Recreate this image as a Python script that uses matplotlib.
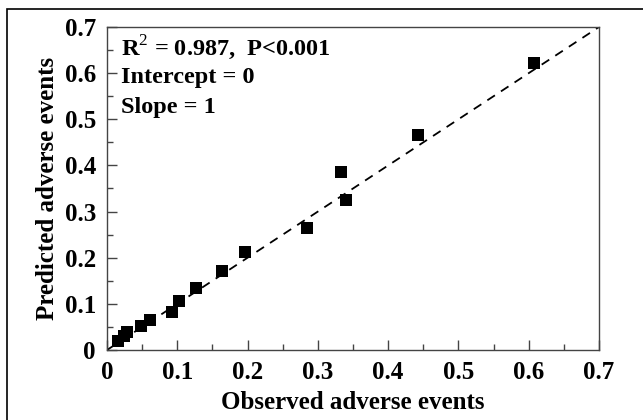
import matplotlib
matplotlib.use("Agg")
import matplotlib.pyplot as plt
from matplotlib.patches import Rectangle
from matplotlib.ticker import MultipleLocator

observed = [0.015, 0.024, 0.028, 0.049, 0.061, 0.093, 0.103, 0.127, 0.164, 0.196,
            0.284, 0.333, 0.340, 0.443, 0.607]
predicted = [0.020, 0.030, 0.038, 0.052, 0.065, 0.082, 0.107, 0.135, 0.172, 0.213,
             0.265, 0.385, 0.325, 0.467, 0.622]
ticks = [0, 0.1, 0.2, 0.3, 0.4, 0.5, 0.6, 0.7]
tick_labels = ["0", "0.1", "0.2", "0.3", "0.4", "0.5", "0.6", "0.7"]
annotations = ["R$^2$ = 0.987,  P<0.001", "Intercept = 0", "Slope = 1"]

plt.rcParams['font.family'] = ['Liberation Serif', 'DejaVu Serif']
plt.rcParams['mathtext.fontset'] = 'custom'
plt.rcParams['mathtext.rm'] = 'Liberation Serif'
plt.rcParams['mathtext.bf'] = 'Liberation Serif:bold'

fig = plt.figure(figsize=(6.43, 4.2), dpi=100)
fig.patches.append(Rectangle((7/643, -0.5), 2, 1 - 9/420 + 0.5, transform=fig.transFigure,
                             fill=False, edgecolor='black', linewidth=1.2, figure=fig))
ax = fig.add_axes([107/643, 1 - 350/420, (599-107)/643, (350-27)/420])

ax.plot([0, 0.7], [0, 0.7], linestyle=(0, (5, 4)), color='black', linewidth=1.3, zorder=2)
ax.scatter(observed, predicted, marker='s', s=85, color='black', zorder=3, linewidths=0)

ax.set_xlim(0, 0.7)
ax.set_ylim(0, 0.7)
ax.set_xticks(ticks)
ax.set_xticklabels(tick_labels)
ax.set_yticks(ticks)
ax.set_yticklabels(tick_labels)
ax.xaxis.set_minor_locator(MultipleLocator(0.05))
ax.yaxis.set_minor_locator(MultipleLocator(0.05))
ax.tick_params(which='both', direction='in', top=False, right=False, color='#444444', width=1)
ax.tick_params(which='major', length=7, labelsize=18)
ax.tick_params(axis='x', which='major', pad=8)
ax.tick_params(axis='y', which='major', pad=8)
ax.tick_params(which='minor', length=4)
for lab in ax.get_xticklabels() + ax.get_yticklabels():
    lab.set_fontweight('bold')
for s in ax.spines.values():
    s.set_color('#444444')
    s.set_linewidth(1)

ax.set_xlabel("Observed adverse events", fontsize=18, fontweight='bold', labelpad=5)
ax.set_ylabel("Predicted adverse events", fontsize=18, fontweight='bold', labelpad=4)

ys = [0.655, 0.59, 0.525]
for t, y in zip(annotations, ys):
    ax.text(0.02, y, t, fontsize=17.5, fontweight='bold', va='center', ha='left')

fig.savefig("out.png", dpi=100)
